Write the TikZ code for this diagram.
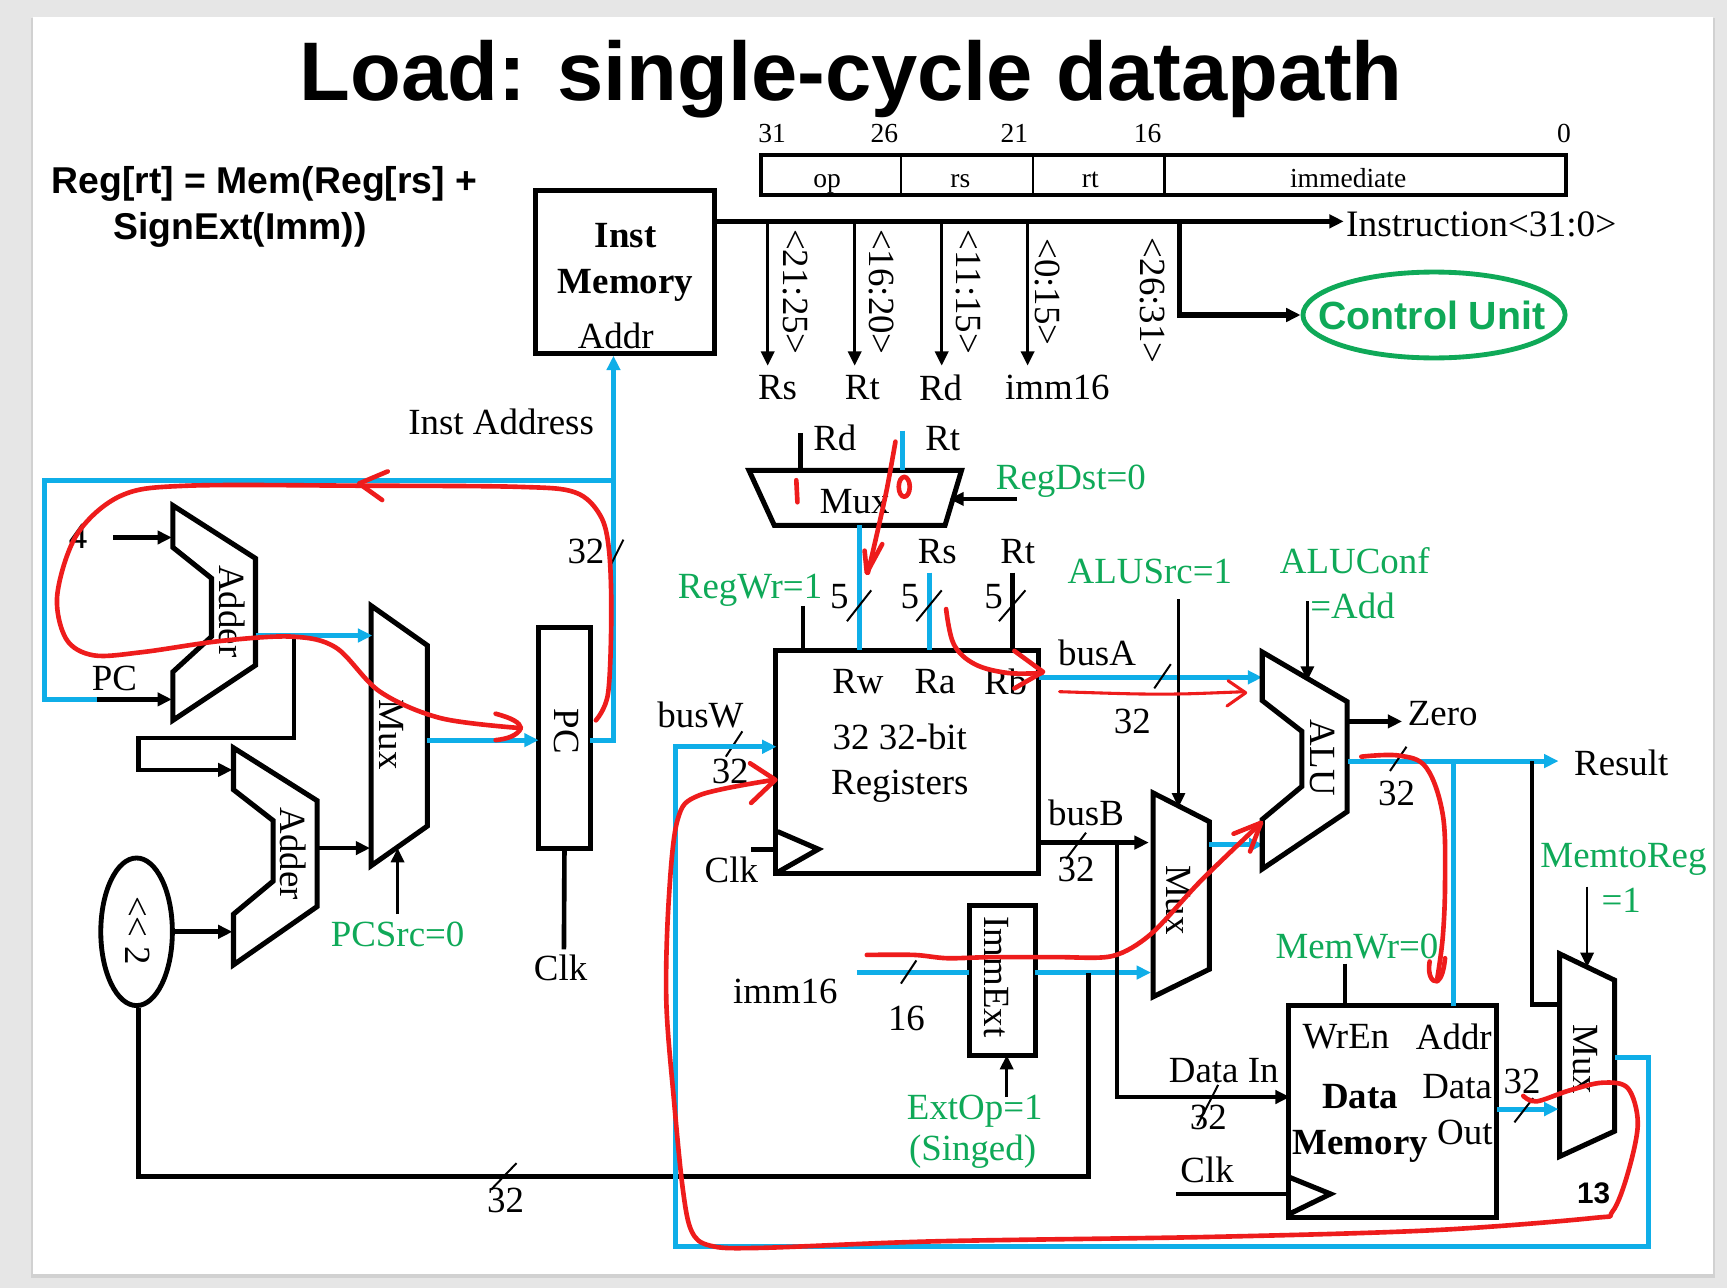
\documentclass[tikz,border=0pt]{standalone}
\usepackage{fontspec}
\setmainfont{Liberation Serif}
\newfontfamily\arf{Liberation Sans}
\usetikzlibrary{arrows.meta,shapes.geometric}
\definecolor{busblue}{HTML}{0FAEE8}
\definecolor{ctlgreen}{HTML}{0FA958}
\definecolor{pen}{HTML}{EE1C1C}
\definecolor{pagebg}{HTML}{E6E6E6}
\newcommand{\fs}[1]{\fontsize{#1}{#1}\selectfont}
\tikzset{
  wire/.style={draw=black,line width=4.2pt},
  wirethin/.style={draw=black,line width=2.8pt},
  bluew/.style={draw=busblue,line width=4.6pt},
  ah/.style={-{Triangle[length=13pt,width=12pt]}},
  ahb/.style={-{Triangle[length=13pt,width=12pt]}},
  slash/.style={draw=black,line width=1.8pt},
  part/.style={draw=black,line width=4.6pt,line join=miter,fill=white},
  box/.style={draw=black,line width=4.6pt,inner sep=0pt,outer sep=0pt,fill=white},
  lbl/.style={inner sep=0pt,font=\fs{33.5}},
  glbl/.style={inner sep=0pt,font=\fs{33.5},text=ctlgreen},
  rlbl/.style={inner sep=0pt,font=\fs{33.5},rotate=-90},
  blbl/.style={inner sep=0pt,font=\fs{33.5}\bfseries},
  bitn/.style={inner sep=0pt,font=\fs{25}},
  fld/.style={inner sep=0pt,font=\fs{25},anchor=base},
  redpen/.style={draw=pen,line width=4.2pt,line cap=round,line join=round},
}
\begin{document}
\begin{tikzpicture}[x=1pt,y=-1pt]
\useasboundingbox (0,0) rectangle (1568,1169);
\fill[pagebg] (0,0) rectangle (1568,1169);
\fill[black!18] (28,16) rectangle (1557,1160);
\fill[white] (30,15) rectangle (1555,1157);

% titles
\node[inner sep=0pt,font=\arf\fs{75.5}\bfseries] (title) at (773,72) {Load: single-cycle datapath};
\node[inner sep=0pt,font=\arf\fs{33.9}\bfseries,anchor=west] (eq1) at (47,167) {Reg[rt] = Mem(Reg[rs] +};
\node[inner sep=0pt,font=\arf\fs{33.9}\bfseries,anchor=west] (eq2) at (103,209) {SignExt(Imm))};

% instruction format
\node[bitn] (b31) at (701,121) {31};
\node[bitn] (b26) at (803,121) {26};
\node[bitn] (b21) at (921,121) {21};
\node[bitn] (b16) at (1042,121) {16};
\node[bitn] (b0) at (1420,121) {0};
\node[draw=black,line width=3.4pt,inner sep=0pt,minimum width=731pt,minimum height=36pt] (fbox) at (1056.5,159) {};
\coordinate (d1) at (818,159); \coordinate (d2) at (938,159); \coordinate (d3) at (1057,159);
\draw[draw=black,line width=2.4pt] (d1 |- fbox.north) -- (d1 |- fbox.south);
\draw[draw=black,line width=2.4pt] (d2 |- fbox.north) -- (d2 |- fbox.south);
\draw[draw=black,line width=2.4pt] (d3 |- fbox.north) -- (d3 |- fbox.south);
\node[fld] (top) at (751,170) {op};
\node[fld] (trs) at (872,170) {rs};
\node[fld] (trt) at (990,170) {rt};
\node[fld] (tim) at (1224,170) {immediate};

% instruction memory
\node[box,minimum width=163pt,minimum height=148pt] (imem) at (567.5,247) {};
\node[blbl] (imem1) at (568,214) {Inst};
\node[blbl] (imem2) at (568,259) {Memory};
\node[lbl] (imem3) at (559,305) {Addr};

% instruction bus
\coordinate (instend) at (1220,201);
\coordinate (b1) at (697,201); \coordinate (b2) at (776,201);
\coordinate (b3) at (855,201); \coordinate (b4) at (933,201);
\coordinate (b5) at (1071,201);
\coordinate (e1) at (697,332); \coordinate (e2) at (776,332);
\coordinate (e3) at (855,332); \coordinate (e4) at (933,332);
\draw[wire,ah] (imem.east |- instend) -- (instend);
\draw[wirethin,ah] (b1) -- (e1);
\draw[wirethin,ah] (b2) -- (e2);
\draw[wirethin,ah] (b3) -- (e3);
\draw[wirethin,ah] (b4) -- (e4);
\node[inner sep=0pt,font=\fs{33.9},anchor=west] (instr) at (1222,204) {Instruction<31:0>};
\node[rlbl] (s1) at (722,265) {<21:25>};
\node[rlbl] (s2) at (800,265) {<16:20>};
\node[rlbl] (s3) at (879,265) {<11:15>};
\node[rlbl] (s4) at (951,265) {<0:15>};
\node[rlbl] (s5) at (1046,273) {<26:31>};
\node[lbl] (nrs) at (706,352) {Rs};
\node[lbl] (nrt) at (783,352) {Rt};
\node[lbl] (nrd) at (854,352) {Rd};
\node[lbl] (nimm) at (960,352) {imm16};
\node[ellipse,draw=ctlgreen,line width=4.4pt,inner sep=0pt,minimum width=238pt,minimum height=78pt] (ctl) at (1302,286) {};
\node[inner sep=0pt,font=\arf\fs{35.7}\bfseries,text=ctlgreen] (ctlt) at (1300,286) {Control Unit};
\draw[wire,line width=4.8pt,ah] (b5) |- (ctl.west);

% PC section
\node[lbl] (ia) at (455,383) {Inst Address};
\node[box,minimum width=47pt,minimum height=200pt] (pc) at (512.5,670) {};
\node[rlbl] (pct) at (514,664) {PC};
\node[lbl] (pcclk) at (509,879) {Clk};
\coordinate (pcck) at (512,862);
\draw[wire] (pc.south) -- (pcck);
\coordinate (pcout) at (557,672);
\coordinate (tee) at (557,436);
\coordinate (loopa) at (40,436);
\coordinate (loopb) at (40,635);
\coordinate (loopc) at (88,635);
\coordinate (add1b) at (156,635);
\coordinate (imaddr) at (557,323);
\draw[bluew,ahb] (pc.east |- pcout) -- (pcout) -- (imaddr);
\draw[bluew] (tee) -- (loopa) -- (loopb) -- (loopc);
\draw[wire,ah] (loopc) -- (add1b);
\node[lbl] (n32a) at (532,501) {32};
\coordinate (sa1) at (553,516); \coordinate (sa2) at (566,490);
\draw[slash] (sa1) -- (sa2);

% adder 1
\draw[part] (157,459) -- (232,507) -- (232,604) -- (157,654) -- (157,610) -- (192,578) -- (192,525) -- (157,497) -- cycle;
\node[rlbl] (add1) at (211,555) {Adder};
\node[lbl] (four) at (71,487) {4};
\coordinate (f1) at (103,488); \coordinate (f2) at (156,488);
\draw[wire,ah] (f1) -- (f2);
\node[lbl] (pcl) at (104,616) {PC};

% adder 2
\draw[part] (212,679) -- (288,727) -- (288,823) -- (212,876) -- (212,830) -- (248,800) -- (248,745) -- (212,717) -- cycle;
\node[rlbl] (add2) at (266,775) {Adder};
% pc mux
\draw[part] (337,550) -- (388,586) -- (388,750) -- (337,786) -- cycle;
\node[rlbl] (mux1) at (355,667) {Mux};
\coordinate (a1o) at (232,577); \coordinate (m1a) at (338,577);
\coordinate (j1) at (267,577); \coordinate (j2) at (267,670); \coordinate (j3) at (126,670); \coordinate (j4) at (126,699); \coordinate (a2a) at (211,699);
\draw[bluew,ahb] (a1o) -- (m1a);
\draw[wire,ah] (j1) -- (j2) -- (j3) -- (j4) -- (a2a);
\coordinate (m1o) at (388,672); \coordinate (pci) at (487,672);
\draw[bluew,ahb] (m1o) -- (pc.west |- pci);
\coordinate (a2o) at (288,770); \coordinate (m1b) at (336,770);
\draw[wire,ah] (a2o) -- (m1b);
\coordinate (psc) at (361,830); \coordinate (psc2) at (361,770);
\draw[wirethin,ah] (psc) -- (psc2);
\node[glbl] (pcsrc) at (361,848) {PCSrc=0};
\node[ellipse,draw=black,line width=4.4pt,inner sep=0pt,minimum width=65pt,minimum height=134pt,fill=white] (sl) at (124,846) {};
\node[rlbl] (slt) at (125,845) {<{}< 2};
\coordinate (a2b) at (211,846);
\draw[wire,ah] (sl.east) -- (a2b);

% imm ext
\node[box,minimum width=60pt,minimum height=136pt] (imm) at (910,890) {};
\node[rlbl] (immt) at (905,887) {ImmExt};
\node[lbl] (imml) at (713,900) {imm16};
\node[lbl] (n16) at (823,925) {16};
\coordinate (iw) at (778,883); \coordinate (ie) at (1045,883);
\draw[bluew] (iw) -- (imm.west |- iw);
\draw[bluew,ahb] (imm.east |- ie) -- (ie);
\coordinate (si1) at (818,893); \coordinate (si2) at (832,872);
\draw[slash] (si1) -- (si2);
\coordinate (ex1) at (914,996);
\draw[wirethin,ah] (ex1) -- (ex1 |- imm.south);
\node[glbl] (extop) at (885,1009) {ExtOp=1};
\node[glbl] (singed) at (883,1046) {(Singed)};
% long feedback to adder 2
\coordinate (fb1) at (126,1068); \coordinate (fb2) at (988,1068); \coordinate (fb3) at (988,883);
\draw[wire] (fb1 |- sl.south) -- (fb1) -- (fb2) -- (fb3);
\coordinate (sl1) at (446,1080); \coordinate (sl2) at (469,1056);
\draw[slash] (sl1) -- (sl2);
\node[lbl] (n32b) at (459,1090) {32};

% register write mux
\draw[part] (680,427) -- (873,427) -- (858,477) -- (703,477) -- cycle;
\node[lbl] (muxt) at (776,455) {Mux};
\coordinate (rd1) at (727,393); \coordinate (rd2) at (727,427);
\coordinate (rt1) at (819,391); \coordinate (rt2) at (819,427);
\draw[wire] (rd1) -- (rd2);
\draw[bluew] (rt1) -- (rt2);
\node[lbl] (lrd) at (758,398) {Rd};
\node[lbl] (lrt) at (856,398) {Rt};
\coordinate (dst1) at (923,453); \coordinate (dst2) at (862,453);
\draw[wire,ah] (dst1) -- (dst2);
\node[glbl,anchor=west] (regdst) at (904,437) {RegDst=0};

% registers
\node[box,minimum width=239pt,minimum height=202pt] (regs) at (823.5,692) {};
\node[lbl] (rw) at (779,619) {Rw};
\node[lbl] (ra) at (849,619) {Ra};
\node[lbl] (rb) at (913,619) {Rb};
\node[lbl] (r1) at (817,669) {32 32-bit};
\node[lbl] (r2) at (817,714) {Registers};
\draw[part,fill=none] (706,755) -- (743,771) -- (706,792);
\coordinate (ck1) at (682,771);
\draw[wire] (ck1) -- (704,771);
\node[lbl] (rclk) at (664,790) {Clk};
\coordinate (w1) at (780,477); \coordinate (w2) at (780,590);
\coordinate (a1) at (844,520); \coordinate (a2) at (844,590);
\coordinate (bb1) at (919,520); \coordinate (bb2) at (919,590);
\coordinate (wr1) at (729,550); \coordinate (wr2) at (729,590);
\draw[bluew] (w1) -- (w2);
\draw[bluew] (a1) -- (a2);
\draw[wire] (bb1) -- (bb2);
\draw[wire] (wr1) -- (wr2);
\node[glbl] (regwr) at (681,536) {RegWr=1};
\node[lbl] (lrs2) at (851,501) {Rs};
\node[lbl] (lrt2) at (924,501) {Rt};
\node[lbl] (f5a) at (762,542) {5};
\node[lbl] (f5b) at (826,542) {5};
\node[lbl] (f5c) at (902,542) {5};
\coordinate (q1) at (769,564); \coordinate (q2) at (791,536);
\coordinate (q3) at (832,564); \coordinate (q4) at (855,536);
\coordinate (q5) at (907,564); \coordinate (q6) at (931,536);
\draw[slash] (q1) -- (q2);
\draw[slash] (q3) -- (q4);
\draw[slash] (q5) -- (q6);
\node[lbl] (busw) at (636,649) {busW};
\node[lbl] (n32c) at (663,700) {32};
\coordinate (sw1) at (659,687); \coordinate (sw2) at (674,664);
\draw[slash] (sw1) -- (sw2);
\node[lbl] (busa) at (996,593) {busA};
\node[lbl] (n32d) at (1028,655) {32};
\coordinate (ba) at (1146,615);
\draw[bluew,ahb] (regs.east |- ba) -- (ba);
\coordinate (sb1) at (1048,625); \coordinate (sb2) at (1063,603);
\draw[slash] (sb1) -- (sb2);
\node[lbl] (busb) at (986,738) {busB};
\node[lbl] (n32e) at (977,789) {32};
\coordinate (bb) at (1043,765);
\draw[wire,ah] (regs.east |- bb) -- (bb);
\coordinate (sc1) at (968,780); \coordinate (sc2) at (986,756);
\draw[slash] (sc1) -- (sc2);

% alu src mux
\draw[part] (1047,720) -- (1098,746) -- (1098,880) -- (1047,905) -- cycle;
\node[rlbl] (mux2) at (1070,817) {Mux};
\coordinate (as1) at (1070,544); \coordinate (as2) at (1070,733);
\draw[wirethin,line width=2.2pt,ah] (as1) -- (as2);
\node[glbl] (alusrc) at (1044,519) {ALUSrc=1};
\coordinate (m2o) at (1098,767); \coordinate (alb) at (1147,767);
\draw[bluew,ahb] (m2o) -- (alb);

% ALU
\draw[part] (1146,592) -- (1223,637) -- (1223,737) -- (1146,789) -- (1146,744) -- (1182,714) -- (1182,664) -- (1146,636) -- cycle;
\node[rlbl] (alu) at (1201,688) {ALU};
\node[glbl] (aluc1) at (1230,509) {ALUConf};
\node[glbl] (aluc2) at (1228,550) {=Add};
\coordinate (ac1) at (1187,546); \coordinate (ac2) at (1187,618);
\draw[wirethin,line width=2.2pt,ah] (ac1) -- (ac2);
\coordinate (z1) at (1224,655); \coordinate (z2) at (1273,655);
\draw[wire,ah] (z1) -- (z2);
\node[lbl,anchor=west] (zero) at (1278,648) {Zero};
\coordinate (res1) at (1224,691); \coordinate (res2) at (1415,691);
\draw[bluew,ahb] (res1) -- (res2);
\node[lbl] (result) at (1472,693) {Result};
\coordinate (sd1) at (1262,700); \coordinate (sd2) at (1277,678);
\draw[slash] (sd1) -- (sd2);
\node[lbl] (n32f) at (1268,720) {32};

% data memory
\node[box,minimum width=189pt,minimum height=192pt] (dmem) at (1264.5,1009) {};
\node[lbl] (wren) at (1222,941) {WrEn};
\node[lbl] (addr) at (1320,941) {Addr};
\node[blbl] (dm1) at (1235,996) {Data};
\node[blbl] (dm2) at (1235,1041) {Memory};
\node[lbl] (dd) at (1323,987) {Data};
\node[lbl] (do) at (1330,1028) {Out};
\draw[part,fill=none] (1171,1069) -- (1208,1084) -- (1171,1102);
\coordinate (ck2) at (1068,1084);
\draw[wire] (ck2) -- (1170,1084);
\node[lbl] (dclk) at (1096,1062) {Clk};
\node[lbl] (dain) at (1111,972) {Data In};
\coordinate (bj) at (1014,765); \coordinate (bk) at (1014,996); \coordinate (dmi) at (1171,996);
\draw[wire,ah] (bj) -- (bk) -- (dmi);
\coordinate (se1) at (1087,1022); \coordinate (se2) at (1106,985);
\draw[slash] (se1) -- (se2);
\node[lbl] (n32g) at (1097,1015) {32};
\coordinate (mw) at (1221,875);
\draw[wire] (mw) -- (mw |- dmem.north);
\node[glbl] (memwr) at (1232,859) {MemWr=0};
\coordinate (ra1) at (1320,691);
\draw[bluew] (ra1) -- (ra1 |- dmem.north);

% output mux
\draw[part] (1416,866) -- (1466,890) -- (1466,1027) -- (1416,1050) -- cycle;
\node[rlbl] (mux3) at (1439,962) {Mux};
\coordinate (rb1) at (1391,691); \coordinate (rb2) at (1391,912); \coordinate (rb3) at (1416,912);
\draw[wire] (rb1) -- (rb2) -- (rb3);
\coordinate (mr1) at (1441,805); \coordinate (mr2) at (1441,878);
\draw[wirethin,line width=2.2pt,ah] (mr1) -- (mr2);
\node[glbl] (mtr1) at (1474,780) {MemtoReg};
\node[glbl] (mtr2) at (1472,817) {=1};
\coordinate (do1) at (1415,1007);
\draw[bluew,ahb] (dmem.east |- do1) -- (do1);
\coordinate (sf1) at (1375,1019); \coordinate (sf2) at (1392,997);
\draw[slash] (sf1) -- (sf2);
\node[lbl] (n32h) at (1382,982) {32};
\node[inner sep=0pt,font=\arf\fs{27}\bfseries] (pg) at (1447,1083) {13};

% big bus W loop
\coordinate (lw1) at (1466,960); \coordinate (lw2) at (1497,960); \coordinate (lw3) at (1497,1132);
\coordinate (lw4) at (613,1132); \coordinate (lw5) at (613,678); \coordinate (lw6) at (705,678);
\draw[bluew,ahb] (lw1) -- (lw2) -- (lw3) -- (lw4) -- (lw5) -- (lw6);

% red pen annotation
\draw[redpen] plot[smooth,tension=.55] coordinates {(541,654) (552,630) (555,560) (553,500) (545,468) (522,447) (470,442) (330,441) (170,441) (110,450) (70,485) (52,540) (60,580) (85,595) (130,592) (200,582) (265,578) (305,588) (345,628) (400,652) (472,661)};
\draw[redpen] (450,648) .. controls (465,652) and (472,656) .. (473,661) .. controls (470,668) and (460,671) .. (450,672);
\draw[redpen] (352,428) -- (326,439) -- (347,454);
\draw[redpen] plot[smooth,tension=.5] coordinates {(813,401) (805,445) (795,490) (788,520)};
\draw[redpen] (785,500) -- (787,520) -- (801,494);
\draw[redpen] (723,436) -- (724,456);
\draw[redpen] (821,442) ellipse (5pt and 9pt);
\draw[redpen] plot[smooth,tension=.6] coordinates {(859,553) (866,585) (885,603) (915,611) (946,611)};
\draw[redpen] (921,591) -- (947,610) -- (921,625);
\draw[redpen,line width=2.8pt] plot[smooth,tension=.5] coordinates {(962,628) (1030,630) (1075,630) (1130,628)};
\draw[redpen,line width=2.8pt] (1115,618) -- (1131,629) -- (1114,641);
\draw[redpen] plot[smooth,tension=.5] coordinates {(787,867) (830,867) (860,870) (900,869) (960,869) (1010,868) (1045,848) (1090,800) (1144,748)};
\draw[redpen] (1120,757) -- (1145,747) -- (1135,773);
\draw[redpen] plot[smooth,tension=.6] coordinates {(1236,687) (1270,686) (1295,697) (1310,740) (1312,800) (1310,850) (1305,888)};
\draw[redpen] (1298,873) .. controls (1296,885) and (1300,892) .. (1305,891) .. controls (1309,888) and (1311,880) .. (1312,870);
\draw[redpen] plot[smooth,tension=.55] coordinates {(1383,995) (1395,1000) (1425,990) (1455,983) (1478,988) (1487,1020) (1478,1065) (1464,1100) (1445,1106) (1300,1117) (1100,1123) (850,1127) (690,1133) (645,1131) (628,1118) (620,1080) (612,1000) (605,910) (607,820) (615,745) (635,722) (703,708)};
\draw[redpen] (681,693) -- (704,708) -- (682,729);
\end{tikzpicture}
\end{document}
